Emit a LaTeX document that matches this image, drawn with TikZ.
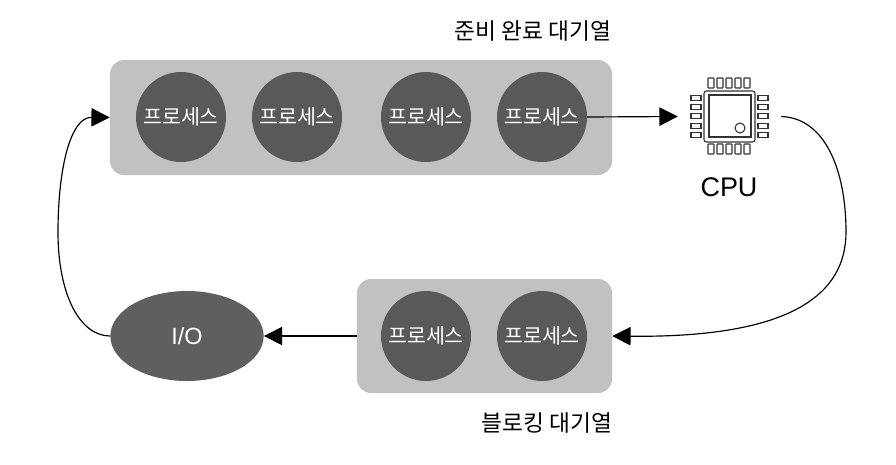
\documentclass[tikz,border=0pt]{standalone}
\usepackage{fontspec}
\setmainfont{Liberation Sans}
\newfontfamily\krfont{Noto Sans CJK KR}
\usetikzlibrary{arrows.meta,positioning,shapes.geometric}
\definecolor{queuegray}{HTML}{C1C1C1}
\definecolor{procgray}{HTML}{595959}
\definecolor{iogray}{HTML}{5F5F5F}
\tikzset{
  queuebox/.style={fill=queuegray,rounded corners=0.42cm,inner sep=0pt},
  procnode/.style={circle,fill=procgray,text=white,minimum size=2.7cm,inner sep=0pt,font=\krfont\fontsize{17.6}{17.6}\selectfont},
  ionode/.style={ellipse,fill=iogray,text=white,minimum width=4.6cm,minimum height=2.7cm,inner sep=0pt,font=\fontsize{20}{20}\selectfont},
  titlenode/.style={font=\krfont\fontsize{19.4}{19.4}\selectfont},
  flow/.style={-{Triangle[length=0.55cm,width=0.55cm]},line width=1pt},
  chipline/.style={line width=0.9pt,draw=black!80}
}

\begin{document}
\begin{tikzpicture}[x=0.03cm,y=-0.03cm]
  \useasboundingbox (0,0) rectangle (896,464);

  % queues
  \node[queuebox,minimum width=15.06cm,minimum height=3.45cm] (readyq) at (361,117.5) {};
  \node[queuebox,minimum width=7.65cm,minimum height=3.42cm] (blockq) at (484.5,336) {};
  \node[titlenode] (readytitle) at (533,31) {준비 완료 대기열};
  \node[titlenode] (blocktitle) at (547,423) {블로킹 대기열};

  % processes
  \node[procnode] (p1) at (181,117) {프로세스};
  \node[procnode] (p2) at (297,117) {프로세스};
  \node[procnode] (p3) at (426,117) {프로세스};
  \node[procnode] (p4) at (542,117) {프로세스};
  \node[procnode] (p5) at (426,336) {프로세스};
  \node[procnode] (p6) at (542,336) {프로세스};
  \node[ionode] (io) at (187,336) {I/O};

  % cpu icon
  \node[minimum width=3.09cm,minimum height=2.28cm,inner sep=0pt] (cpu) at (729.5,116.5) {};
  \node[font=\fontsize{23}{23}\selectfont] (cpulabel) at (729,187) {CPU};
  \draw[chipline,rounded corners=2pt] (704,91) rectangle (755,142);
  \draw[chipline] (709,95) rectangle (751,137);
  \draw[chipline] (740,128) circle (5);
  \foreach \px in {711,720,729,738,747} {
    \draw[chipline,rounded corners=0.5pt] (\px-3,78) rectangle (\px+3,88);
    \draw[chipline,rounded corners=0.5pt] (\px-3,144) rectangle (\px+3,154);
  }
  \foreach \py in {98,107,116,126,135} {
    \draw[chipline] (691,\py-2.5) rectangle (701,\py+2.5);
    \draw[chipline] (758,\py-2.5) rectangle (768,\py+2.5);
  }

  % connectors
  \coordinate (rightbend) at (846,232);
  \coordinate (leftbend) at (58,232);
  \draw[flow] (p4.east) -- (cpu.west);
  \draw[flow] (cpu.east) .. controls (825,118) and (846,170) .. (rightbend)
    .. controls (846,295) and (790,338) .. (blockq.east);
  \draw[flow] (blockq.west) -- (io.east);
  \draw[flow] (io.west) .. controls (80,336) and (58,295) .. (leftbend)
    .. controls (58,170) and (70,117) .. (readyq.west);
\end{tikzpicture}
\end{document}
